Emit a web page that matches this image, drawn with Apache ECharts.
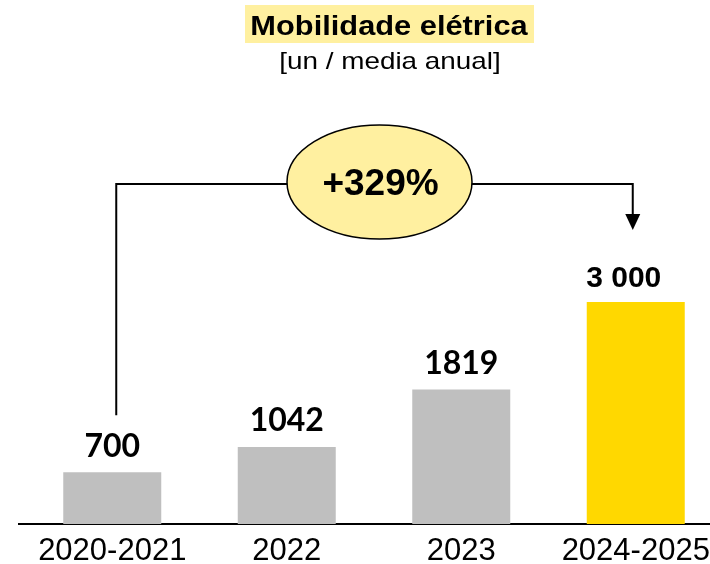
<!DOCTYPE html>
<html>
<head>
<meta charset="utf-8">
<script src="https://cdn.jsdelivr.net/npm/echarts@6/dist/echarts.min.js"></script>
<style>
  html, body { margin: 0; padding: 0; background: #ffffff; }
  #chart { width: 710px; height: 564px; }
</style>
</head>
<body>
<div id="chart"></div>
<script>
// Periods on the category axis
const categories = ['2020-2021', '2022', '2023', '2024-2025'];
// Electric mobility units, annual average
const values = [700, 1042, 1819, 3000];
// Value labels as printed above each bar
const valueLabels = ['700', '1042', '1819', '3 000'];
// Index of the highlighted (target) period
const highlightIndex = 3;

const GREY = '#BFBFBF';
const YELLOW = '#FFD800';
const PALE = '#FFF0A0';
const ARIAL = '"Liberation Sans", Arial, sans-serif';

const chart = echarts.init(document.getElementById('chart'), null, { renderer: 'canvas' });

const seriesData = values.map((v, i) => {
  const item = { value: v, itemStyle: { color: i === highlightIndex ? YELLOW : GREY } };
  if (i === highlightIndex) {
    item.label = { fontFamily: ARIAL, fontSize: 30, distance: 8, offset: [-12, 0] };
  }
  return item;
});

chart.setOption({
  animation: false,
  backgroundColor: '#ffffff',
  grid: { left: 25, width: 698, top: 228, bottom: 40, outerBoundsMode: 'none', containLabel: false },
  xAxis: {
    type: 'category',
    data: categories,
    axisLine: { show: true, lineStyle: { color: '#000000', width: 2 } },
    axisTick: { show: false },
    axisLabel: {
      interval: 0,
      margin: 12,
      color: '#000000',
      fontFamily: ARIAL,
      fontSize: 31,
      hideOverlap: false
    }
  },
  yAxis: {
    type: 'value',
    min: 0,
    max: 4000,
    show: false,
    splitLine: { show: false }
  },
  series: [{
    type: 'bar',
    data: seriesData,
    barWidth: 98,
    label: {
      show: true,
      position: 'top',
      distance: 10,
      color: '#000000',
      fontFamily: 'Lato, "Open Sans", sans-serif',
      fontWeight: 'bold',
      fontSize: 32,
      formatter: p => valueLabels[p.dataIndex]
    }
  }]
});

// Growth annotation: bracket from the first bar to the highlighted bar
const first = values[0];
const last = values[values.length - 1];
const growth = Math.round((last - first) / first * 100);

const pFirst = chart.convertToPixel({ gridIndex: 0 }, [0, first]);
const pLast = chart.convertToPixel({ gridIndex: 0 }, [values.length - 1, last]);
const pBase = chart.convertToPixel({ gridIndex: 0 }, [0, 0]);

const leftX = pFirst[0] + 4;
const rightX = pLast[0] - 3;
const bracketY = 184;
const stemBottom = pFirst[1] - 57;
const arrowTip = 230;
const cx = (leftX + rightX) / 2 + 5;

chart.setOption({
  graphic: [
    // baseline lead-in left of the plot area
    {
      type: 'line',
      shape: { x1: 18, y1: pBase[1], x2: 26, y2: pBase[1] },
      style: { stroke: '#000000', lineWidth: 2 },
      z: 10
    },
    // title highlight
    {
      type: 'rect',
      shape: { x: 245, y: 5, width: 289, height: 38 },
      style: { fill: PALE },
      z: 10
    },
    {
      type: 'text',
      x: 389, y: 27,
      scaleX: 1.1,
      style: {
        text: 'Mobilidade elétrica',
        font: 'bold 28px ' + ARIAL,
        fill: '#000000',
        textAlign: 'center',
        textVerticalAlign: 'middle'
      },
      z: 11
    },
    {
      type: 'text',
      x: 390, y: 62,
      scaleX: 1.16,
      style: {
        text: '[un / media anual]',
        font: '24px ' + ARIAL,
        fill: '#000000',
        textAlign: 'center',
        textVerticalAlign: 'middle'
      },
      z: 11
    },
    // bracket line
    {
      type: 'polyline',
      shape: { points: [[leftX, stemBottom], [leftX, bracketY], [rightX, bracketY], [rightX, arrowTip - 15]] },
      style: { stroke: '#000000', lineWidth: 2, fill: null },
      z: 10
    },
    {
      type: 'polygon',
      shape: { points: [[rightX - 7.5, arrowTip - 16], [rightX + 7.5, arrowTip - 16], [rightX, arrowTip]] },
      style: { fill: '#000000' },
      z: 10
    },
    {
      type: 'ellipse',
      shape: { cx: cx, cy: 182, rx: 92.5, ry: 57 },
      style: { fill: PALE, stroke: '#000000', lineWidth: 1.5 },
      z: 11
    },
    {
      type: 'text',
      x: cx + 1, y: 185,
      style: {
        text: '+' + growth + '%',
        font: 'bold 37px ' + ARIAL,
        fill: '#000000',
        textAlign: 'center',
        textVerticalAlign: 'middle'
      },
      z: 12
    }
  ]
});
</script>
</body>
</html>
